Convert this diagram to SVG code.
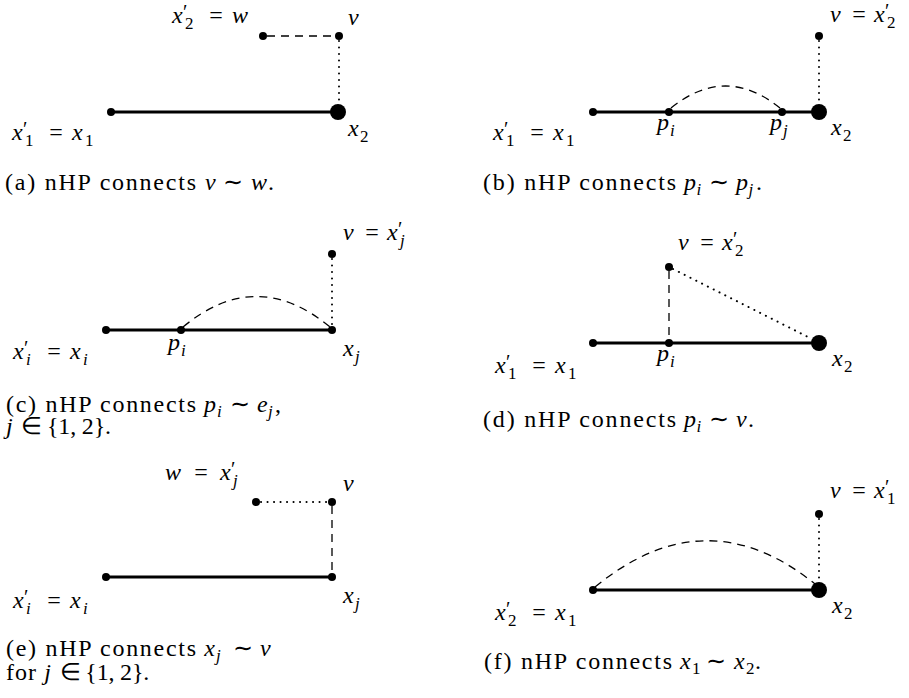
<svg xmlns="http://www.w3.org/2000/svg" width="909" height="698" viewBox="0 0 909 698">
<style>
.thick{stroke:#000;stroke-width:3.2;fill:none}
.dash{stroke:#000;stroke-width:1.3;fill:none;stroke-dasharray:8 6}
.dot{stroke:#000;stroke-width:2;fill:none;stroke-dasharray:0.1 6.4;stroke-linecap:round}
.n{fill:#000}
</style>
<rect width="909" height="698" fill="#fff"/>

<g id="connectors">
  <line class="thick" x1="111" y1="112" x2="338" y2="112"/>
  <line class="dash" x1="267" y1="36" x2="335" y2="36"/>
  <line class="dot" x1="339" y1="41" x2="339" y2="104"/>
  <line class="thick" x1="593" y1="112" x2="819" y2="112"/>
  <path class="dash" d="M671,108 Q725.5,64 780,108"/>
  <line class="dot" x1="819" y1="41" x2="819" y2="104"/>
  <line class="thick" x1="106" y1="330" x2="332" y2="330"/>
  <path class="dash" d="M183,327 Q256.5,266 330,327"/>
  <line class="dot" x1="332" y1="259" x2="332" y2="326"/>
  <line class="thick" x1="593" y1="343" x2="819" y2="343"/>
  <line class="dash" x1="669" y1="271" x2="669" y2="339"/>
  <line class="dot" x1="673" y1="269" x2="812" y2="339"/>
  <line class="thick" x1="106" y1="577" x2="332" y2="577"/>
  <line class="dot" x1="261" y1="502" x2="328" y2="502"/>
  <line class="dash" x1="332" y1="506" x2="332" y2="573"/>
  <line class="thick" x1="593" y1="590" x2="819" y2="590"/>
  <path class="dash" d="M595,587 Q706,496 815,584"/>
  <line class="dot" x1="819" y1="519" x2="819" y2="582"/>
</g>

<!-- panel (a) -->
<g id="a-x1"><circle class="n" cx="111" cy="112" r="4"/>
  <text x="12" y="140" style="font-family:'Liberation Serif',serif !important;font-size:24px;font-style:italic">x</text><text x="23" y="136" style="font-family:'Liberation Serif',serif !important;font-size:20px">′</text><text x="25" y="146" style="font-family:'Liberation Serif',serif !important;font-size:17px">1</text><text x="56" y="140" text-anchor="middle" style="font-family:'Liberation Serif',serif !important;font-size:24px">=</text><text x="72" y="140" style="font-family:'Liberation Serif',serif !important;font-size:24px;font-style:italic">x</text><text x="85" y="146" style="font-family:'Liberation Serif',serif !important;font-size:17px">1</text></g>
<g id="a-x2"><circle class="n" cx="338" cy="112" r="8"/>
  <text x="348" y="136" style="font-family:'Liberation Serif',serif !important;font-size:24px;font-style:italic">x</text><text x="360" y="142" style="font-family:'Liberation Serif',serif !important;font-size:17px">2</text></g>
<g id="a-w"><circle class="n" cx="263" cy="36" r="4"/>
  <text x="172" y="23" style="font-family:'Liberation Serif',serif !important;font-size:24px;font-style:italic">x</text><text x="183" y="19" style="font-family:'Liberation Serif',serif !important;font-size:20px">′</text><text x="185" y="29" style="font-family:'Liberation Serif',serif !important;font-size:17px">2</text><text x="216" y="23" text-anchor="middle" style="font-family:'Liberation Serif',serif !important;font-size:24px">=</text><text x="232" y="23" style="font-family:'Liberation Serif',serif !important;font-size:24px;font-style:italic">w</text></g>
<g id="a-v"><circle class="n" cx="339" cy="36" r="4"/>
  <text x="348" y="25" style="font-family:'Liberation Serif',serif !important;font-size:24px;font-style:italic">v</text></g>
<g id="a-cap"><text x="5" y="190" textLength="191" lengthAdjust="spacing" style="font-family:'Liberation Serif',serif !important;font-size:24px">(a) nHP connects</text><text x="205" y="190" style="font-family:'Liberation Serif',serif !important;font-size:24px;font-style:italic">v</text><text x="233" y="190" text-anchor="middle" style="font-family:'Liberation Serif',serif !important;font-size:24px">∼</text><text x="251" y="190" style="font-family:'Liberation Serif',serif !important;font-size:24px;font-style:italic">w</text><text x="268" y="190" style="font-family:'Liberation Serif',serif !important;font-size:24px">.</text></g>

<!-- panel (b) -->
<g id="b-x1"><circle class="n" cx="593" cy="112" r="4"/>
  <text x="493" y="140" style="font-family:'Liberation Serif',serif !important;font-size:24px;font-style:italic">x</text><text x="504" y="136" style="font-family:'Liberation Serif',serif !important;font-size:20px">′</text><text x="506" y="146" style="font-family:'Liberation Serif',serif !important;font-size:17px">1</text><text x="537" y="140" text-anchor="middle" style="font-family:'Liberation Serif',serif !important;font-size:24px">=</text><text x="553" y="140" style="font-family:'Liberation Serif',serif !important;font-size:24px;font-style:italic">x</text><text x="566" y="146" style="font-family:'Liberation Serif',serif !important;font-size:17px">1</text></g>
<g id="b-pi"><circle class="n" cx="669" cy="112" r="4"/>
  <text x="657" y="130" style="font-family:'Liberation Serif',serif !important;font-size:24px;font-style:italic">p</text><text x="670" y="136" style="font-family:'Liberation Serif',serif !important;font-size:17px;font-style:italic">i</text></g>
<g id="b-pj"><circle class="n" cx="782" cy="112" r="4"/>
  <text x="770" y="130" style="font-family:'Liberation Serif',serif !important;font-size:24px;font-style:italic">p</text><text x="783" y="136" style="font-family:'Liberation Serif',serif !important;font-size:17px;font-style:italic">j</text></g>
<g id="b-x2"><circle class="n" cx="819" cy="112" r="8"/>
  <text x="831" y="135" style="font-family:'Liberation Serif',serif !important;font-size:24px;font-style:italic">x</text><text x="843" y="141" style="font-family:'Liberation Serif',serif !important;font-size:17px">2</text></g>
<g id="b-v"><circle class="n" cx="819" cy="36" r="4"/>
  <text x="830" y="22" style="font-family:'Liberation Serif',serif !important;font-size:24px;font-style:italic">v</text><text x="859" y="22" text-anchor="middle" style="font-family:'Liberation Serif',serif !important;font-size:24px">=</text><text x="874" y="22" style="font-family:'Liberation Serif',serif !important;font-size:24px;font-style:italic">x</text><text x="885" y="18" style="font-family:'Liberation Serif',serif !important;font-size:20px">′</text><text x="887" y="28" style="font-family:'Liberation Serif',serif !important;font-size:17px">2</text></g>
<g id="b-cap"><text x="483" y="190" textLength="193" lengthAdjust="spacing" style="font-family:'Liberation Serif',serif !important;font-size:24px">(b) nHP connects</text><text x="684" y="190" style="font-family:'Liberation Serif',serif !important;font-size:24px;font-style:italic">p</text><text x="696.5" y="195" style="font-family:'Liberation Serif',serif !important;font-size:17px;font-style:italic">i</text><text x="719" y="190" text-anchor="middle" style="font-family:'Liberation Serif',serif !important;font-size:24px">∼</text><text x="736" y="190" style="font-family:'Liberation Serif',serif !important;font-size:24px;font-style:italic">p</text><text x="748.6" y="195" style="font-family:'Liberation Serif',serif !important;font-size:17px;font-style:italic">j</text><text x="756" y="190" style="font-family:'Liberation Serif',serif !important;font-size:24px">.</text></g>

<!-- panel (c) -->
<g id="c-xi"><circle class="n" cx="106" cy="330" r="4"/>
  <text x="13" y="359" style="font-family:'Liberation Serif',serif !important;font-size:24px;font-style:italic">x</text><text x="24" y="355" style="font-family:'Liberation Serif',serif !important;font-size:20px">′</text><text x="26" y="365" style="font-family:'Liberation Serif',serif !important;font-size:17px;font-style:italic">i</text><text x="54" y="359" text-anchor="middle" style="font-family:'Liberation Serif',serif !important;font-size:24px">=</text><text x="70" y="359" style="font-family:'Liberation Serif',serif !important;font-size:24px;font-style:italic">x</text><text x="83" y="365" style="font-family:'Liberation Serif',serif !important;font-size:17px;font-style:italic">i</text></g>
<g id="c-pi"><circle class="n" cx="181" cy="330" r="4"/>
  <text x="168" y="350" style="font-family:'Liberation Serif',serif !important;font-size:24px;font-style:italic">p</text><text x="181" y="356" style="font-family:'Liberation Serif',serif !important;font-size:17px;font-style:italic">i</text></g>
<g id="c-xj"><circle class="n" cx="332" cy="330" r="4"/>
  <text x="343" y="356" style="font-family:'Liberation Serif',serif !important;font-size:24px;font-style:italic">x</text><text x="355" y="362" style="font-family:'Liberation Serif',serif !important;font-size:17px;font-style:italic">j</text></g>
<g id="c-v"><circle class="n" cx="332" cy="254" r="4"/>
  <text x="343" y="240" style="font-family:'Liberation Serif',serif !important;font-size:24px;font-style:italic">v</text><text x="372" y="240" text-anchor="middle" style="font-family:'Liberation Serif',serif !important;font-size:24px">=</text><text x="387" y="240" style="font-family:'Liberation Serif',serif !important;font-size:24px;font-style:italic">x</text><text x="398" y="236" style="font-family:'Liberation Serif',serif !important;font-size:20px">′</text><text x="400" y="246" style="font-family:'Liberation Serif',serif !important;font-size:17px;font-style:italic">j</text></g>
<g id="c-cap"><text x="6" y="412" textLength="190" lengthAdjust="spacing" style="font-family:'Liberation Serif',serif !important;font-size:24px">(c) nHP connects</text><text x="204" y="412" style="font-family:'Liberation Serif',serif !important;font-size:24px;font-style:italic">p</text><text x="217" y="417" style="font-family:'Liberation Serif',serif !important;font-size:17px;font-style:italic">i</text><text x="240" y="412" text-anchor="middle" style="font-family:'Liberation Serif',serif !important;font-size:24px">∼</text><text x="257" y="412" style="font-family:'Liberation Serif',serif !important;font-size:24px;font-style:italic">e</text><text x="268" y="417" style="font-family:'Liberation Serif',serif !important;font-size:17px;font-style:italic">j</text><text x="275" y="412" style="font-family:'Liberation Serif',serif !important;font-size:24px">,</text>
  <text x="6" y="434" style="font-family:'Liberation Serif',serif !important;font-size:24px;font-style:italic">j</text><text x="31.5" y="434" text-anchor="middle" style="font-family:'Liberation Serif',serif !important;font-size:24px">∈</text><text x="47" y="434" textLength="64" lengthAdjust="spacing" style="font-family:'Liberation Serif',serif !important;font-size:24px">{1, 2}.</text></g>

<!-- panel (d) -->
<g id="d-x1"><circle class="n" cx="593" cy="343" r="4"/>
  <text x="495" y="373" style="font-family:'Liberation Serif',serif !important;font-size:24px;font-style:italic">x</text><text x="506" y="369" style="font-family:'Liberation Serif',serif !important;font-size:20px">′</text><text x="508" y="379" style="font-family:'Liberation Serif',serif !important;font-size:17px">1</text><text x="539" y="373" text-anchor="middle" style="font-family:'Liberation Serif',serif !important;font-size:24px">=</text><text x="555" y="373" style="font-family:'Liberation Serif',serif !important;font-size:24px;font-style:italic">x</text><text x="568" y="379" style="font-family:'Liberation Serif',serif !important;font-size:17px">1</text></g>
<g id="d-pi"><circle class="n" cx="669" cy="343" r="4"/>
  <text x="657" y="361" style="font-family:'Liberation Serif',serif !important;font-size:24px;font-style:italic">p</text><text x="670" y="367" style="font-family:'Liberation Serif',serif !important;font-size:17px;font-style:italic">i</text></g>
<g id="d-x2"><circle class="n" cx="819" cy="343" r="8"/>
  <text x="832" y="366" style="font-family:'Liberation Serif',serif !important;font-size:24px;font-style:italic">x</text><text x="844" y="372" style="font-family:'Liberation Serif',serif !important;font-size:17px">2</text></g>
<g id="d-v"><circle class="n" cx="669" cy="267" r="4"/>
  <text x="678" y="250" style="font-family:'Liberation Serif',serif !important;font-size:24px;font-style:italic">v</text><text x="707" y="250" text-anchor="middle" style="font-family:'Liberation Serif',serif !important;font-size:24px">=</text><text x="722" y="250" style="font-family:'Liberation Serif',serif !important;font-size:24px;font-style:italic">x</text><text x="733" y="246" style="font-family:'Liberation Serif',serif !important;font-size:20px">′</text><text x="735" y="256" style="font-family:'Liberation Serif',serif !important;font-size:17px">2</text></g>
<g id="d-cap"><text x="483" y="427" textLength="193" lengthAdjust="spacing" style="font-family:'Liberation Serif',serif !important;font-size:24px">(d) nHP connects</text><text x="684" y="427" style="font-family:'Liberation Serif',serif !important;font-size:24px;font-style:italic">p</text><text x="696.5" y="432" style="font-family:'Liberation Serif',serif !important;font-size:17px;font-style:italic">i</text><text x="719" y="427" text-anchor="middle" style="font-family:'Liberation Serif',serif !important;font-size:24px">∼</text><text x="736" y="427" style="font-family:'Liberation Serif',serif !important;font-size:24px;font-style:italic">v</text><text x="748" y="427" style="font-family:'Liberation Serif',serif !important;font-size:24px">.</text></g>

<!-- panel (e) -->
<g id="e-xi"><circle class="n" cx="106" cy="577" r="4"/>
  <text x="13" y="608" style="font-family:'Liberation Serif',serif !important;font-size:24px;font-style:italic">x</text><text x="24" y="604" style="font-family:'Liberation Serif',serif !important;font-size:20px">′</text><text x="26" y="614" style="font-family:'Liberation Serif',serif !important;font-size:17px;font-style:italic">i</text><text x="54" y="608" text-anchor="middle" style="font-family:'Liberation Serif',serif !important;font-size:24px">=</text><text x="70" y="608" style="font-family:'Liberation Serif',serif !important;font-size:24px;font-style:italic">x</text><text x="83" y="614" style="font-family:'Liberation Serif',serif !important;font-size:17px;font-style:italic">i</text></g>
<g id="e-xj"><circle class="n" cx="332" cy="577" r="4"/>
  <text x="343" y="603" style="font-family:'Liberation Serif',serif !important;font-size:24px;font-style:italic">x</text><text x="355" y="609" style="font-family:'Liberation Serif',serif !important;font-size:17px;font-style:italic">j</text></g>
<g id="e-w"><circle class="n" cx="256" cy="502" r="4"/>
  <text x="165" y="480" style="font-family:'Liberation Serif',serif !important;font-size:24px;font-style:italic">w</text><text x="201" y="480" text-anchor="middle" style="font-family:'Liberation Serif',serif !important;font-size:24px">=</text><text x="220" y="480" style="font-family:'Liberation Serif',serif !important;font-size:24px;font-style:italic">x</text><text x="231" y="476" style="font-family:'Liberation Serif',serif !important;font-size:20px">′</text><text x="233" y="486" style="font-family:'Liberation Serif',serif !important;font-size:17px;font-style:italic">j</text></g>
<g id="e-v"><circle class="n" cx="332" cy="502" r="4"/>
  <text x="343" y="491" style="font-family:'Liberation Serif',serif !important;font-size:24px;font-style:italic">v</text></g>
<g id="e-cap"><text x="6" y="656" textLength="190" lengthAdjust="spacing" style="font-family:'Liberation Serif',serif !important;font-size:24px">(e) nHP connects</text><text x="204.3" y="656" style="font-family:'Liberation Serif',serif !important;font-size:24px;font-style:italic">x</text><text x="216" y="661" style="font-family:'Liberation Serif',serif !important;font-size:17px;font-style:italic">j</text><text x="242.5" y="656" text-anchor="middle" style="font-family:'Liberation Serif',serif !important;font-size:24px">∼</text><text x="260" y="656" style="font-family:'Liberation Serif',serif !important;font-size:24px;font-style:italic">v</text>
  <text x="6" y="680" textLength="30" lengthAdjust="spacing" style="font-family:'Liberation Serif',serif !important;font-size:24px">for</text><text x="44.3" y="680" style="font-family:'Liberation Serif',serif !important;font-size:24px;font-style:italic">j</text><text x="70" y="680" text-anchor="middle" style="font-family:'Liberation Serif',serif !important;font-size:24px">∈</text><text x="85.3" y="680" textLength="64" lengthAdjust="spacing" style="font-family:'Liberation Serif',serif !important;font-size:24px">{1, 2}.</text></g>

<!-- panel (f) -->
<g id="f-x1"><circle class="n" cx="593" cy="590" r="4"/>
  <text x="495" y="620" style="font-family:'Liberation Serif',serif !important;font-size:24px;font-style:italic">x</text><text x="506" y="616" style="font-family:'Liberation Serif',serif !important;font-size:20px">′</text><text x="508" y="626" style="font-family:'Liberation Serif',serif !important;font-size:17px">2</text><text x="539" y="620" text-anchor="middle" style="font-family:'Liberation Serif',serif !important;font-size:24px">=</text><text x="555" y="620" style="font-family:'Liberation Serif',serif !important;font-size:24px;font-style:italic">x</text><text x="568" y="626" style="font-family:'Liberation Serif',serif !important;font-size:17px">1</text></g>
<g id="f-x2"><circle class="n" cx="819" cy="590" r="8"/>
  <text x="832" y="613" style="font-family:'Liberation Serif',serif !important;font-size:24px;font-style:italic">x</text><text x="844" y="619" style="font-family:'Liberation Serif',serif !important;font-size:17px">2</text></g>
<g id="f-v"><circle class="n" cx="819" cy="514" r="4"/>
  <text x="830" y="498" style="font-family:'Liberation Serif',serif !important;font-size:24px;font-style:italic">v</text><text x="859" y="498" text-anchor="middle" style="font-family:'Liberation Serif',serif !important;font-size:24px">=</text><text x="874" y="498" style="font-family:'Liberation Serif',serif !important;font-size:24px;font-style:italic">x</text><text x="885" y="494" style="font-family:'Liberation Serif',serif !important;font-size:20px">′</text><text x="887" y="504" style="font-family:'Liberation Serif',serif !important;font-size:17px">1</text></g>
<g id="f-cap"><text x="484" y="669" textLength="188" lengthAdjust="spacing" style="font-family:'Liberation Serif',serif !important;font-size:24px">(f) nHP connects</text><text x="680" y="669" style="font-family:'Liberation Serif',serif !important;font-size:24px;font-style:italic">x</text><text x="692" y="674" style="font-family:'Liberation Serif',serif !important;font-size:17px">1</text><text x="716" y="669" text-anchor="middle" style="font-family:'Liberation Serif',serif !important;font-size:24px">∼</text><text x="734" y="669" style="font-family:'Liberation Serif',serif !important;font-size:24px;font-style:italic">x</text><text x="746" y="674" style="font-family:'Liberation Serif',serif !important;font-size:17px">2</text><text x="755" y="669" style="font-family:'Liberation Serif',serif !important;font-size:24px">.</text></g>
</svg>
